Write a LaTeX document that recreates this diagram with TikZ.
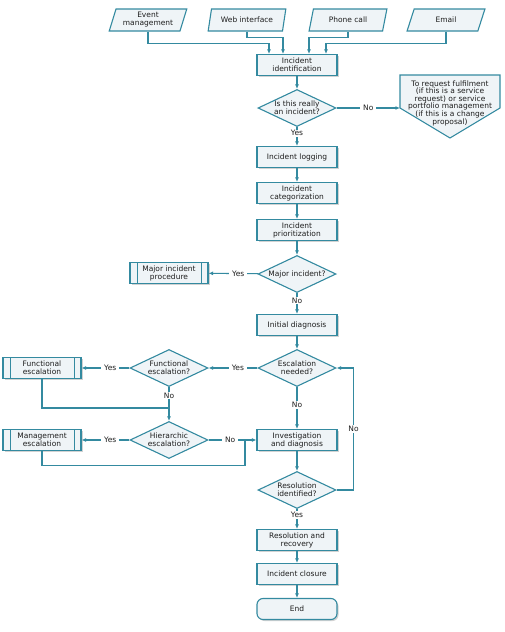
\documentclass[tikz,border=0pt]{standalone}
\usepackage{fontspec}
\setmainfont{DejaVu Sans}
\usetikzlibrary{arrows.meta,shapes.geometric,shadows}
\definecolor{itilline}{RGB}{52,138,160}
\definecolor{itilfill}{RGB}{239,244,247}
\definecolor{itiltext}{RGB}{30,30,30}
\tikzset{%
	base/.style     = {draw=itilline, line width=1.1pt, fill=itilfill, text=itiltext, align=center, font=\fontsize{7.5}{8}\selectfont},
	process/.style  = {base, rectangle, minimum width=80pt, minimum height=21pt, inner sep=2pt, drop shadow={shadow xshift=1.5pt, shadow yshift=-1.5pt, fill=black!35}},
	predef/.style   = {process, minimum width=78pt, path picture={\draw[itilline, line width=0.8pt] ([xshift=7pt]path picture bounding box.north west) -- ([xshift=7pt]path picture bounding box.south west) ([xshift=-7pt]path picture bounding box.north east) -- ([xshift=-7pt]path picture bounding box.south east);}},
	inout/.style    = {base, trapezium, trapezium left angle=72, trapezium right angle=108, trapezium stretches=true, minimum width=78pt, minimum height=22pt, inner sep=1pt},
	decision/.style = {base, diamond, aspect=2.1, minimum width=78pt, minimum height=37pt, inner sep=0pt},
	terminal/.style = {process, rounded corners=6pt},
	arrow/.style    = {draw=itilline, line width=1.1pt, -{Latex[length=4.5pt,width=4pt]}},
	link/.style     = {draw=itilline, line width=1.1pt},
	lbl/.style      = {fill=white, text=itiltext, inner xsep=3pt, inner ysep=1pt, font=\fontsize{7.5}{8}\selectfont},
}

\begin{document}
\begin{tikzpicture}[x=1pt,y=-1pt]
	\useasboundingbox (0,0) rectangle (504,632);
	% inputs
	\node[inout] (event) at (148,20) {Event\\management};
	\node[inout] (web)   at (247,20) {Web interface};
	\node[inout] (phone) at (348,20) {Phone call};
	\node[inout] (email) at (446,20) {Email};
	% main line
	\node[process]  (ident)  at (297,65)  {Incident\\identification};
	\node[decision] (real)   at (297,108) {Is this really\\an incident?};
	\node[process]  (log)    at (297,157) {Incident logging};
	\node[process]  (cat)    at (297,193) {Incident\\categorization};
	\node[process]  (prio)   at (297,230) {Incident\\prioritization};
	\node[decision] (major)  at (297,274) {Major incident?};
	\node[process]  (init)   at (297,325) {Initial diagnosis};
	\node[decision] (escal)  at (297,368) {Escalation\\needed?};
	\node[process]  (invest) at (297,440) {Investigation\\and diagnosis};
	\node[decision] (resol)  at (297,490) {Resolution\\identified?};
	\node[process]  (recov)  at (297,540) {Resolution and\\recovery};
	\node[process]  (close)  at (297,574) {Incident closure};
	\node[terminal] (end)    at (297,609) {End};
	% side branches
	\node[predef]   (majorproc) at (169,273) {Major incident\\procedure};
	\node[decision] (func)      at (169,368) {Functional\\escalation?};
	\node[predef]   (funcbox)   at (42,368)  {Functional\\escalation};
	\node[decision] (hier)      at (169,440) {Hierarchic\\escalation?};
	\node[predef]   (mgmt)      at (42,440)  {Management\\escalation};
	% off-page connector
	\draw[link, fill=itilfill] (400,75) -- (500,75) -- (500,108) -- (450,138) -- (400,108) -- cycle;
	\node[text=itiltext, align=center, font=\fontsize{7.5}{7.6}\selectfont] (request) at (450,103) {To request fulfilment\\(if this is a service\\request) or service\\portfolio management\\(if this is a change\\proposal)};
	\coordinate (reqin) at (400,108);
	\coordinate (fjoin) at (169,408);
	\coordinate (mjoin) at (245,440);

	\draw[arrow] (event.south) -- ++(0,12) -| ([xshift=-28pt]ident.north);
	\draw[arrow] (web.south) -- ++(0,6) -| ([xshift=-14pt]ident.north);
	\draw[arrow] (phone.south) -- ++(0,6) -| ([xshift=12pt]ident.north);
	\draw[arrow] (email.south) -- ++(0,12) -| ([xshift=29pt]ident.north);

	\draw[arrow] (ident) -- (real);
	\draw[arrow] (real) -- node[lbl] {No} (reqin);
	\draw[arrow] (real) -- node[lbl, pos=0.33] {Yes} (log);
	\draw[arrow] (log) -- (cat);
	\draw[arrow] (cat) -- (prio);
	\draw[arrow] (prio) -- (major);
	\draw[arrow] (major) -- node[lbl, pos=0.4] {Yes} (majorproc);
	\draw[arrow] (major) -- node[lbl, pos=0.35] {No} (init);
	\draw[arrow] (init) -- (escal);
	\draw[arrow] (escal) -- node[lbl, pos=0.4] {Yes} (func);
	\draw[arrow] (func) -- node[lbl, pos=0.4] {Yes} (funcbox);
	\draw[arrow] (func) -- node[lbl, pos=0.25] {No} (hier);
	\draw[link] (funcbox.south) |- (fjoin);
	\draw[arrow] (hier) -- node[lbl, pos=0.4] {Yes} (mgmt);
	\draw[arrow] (hier) -- node[lbl, pos=0.45] {No} (invest);
	\draw[link] (mgmt.south) -- ++(0,14) -| (mjoin);
	\draw[arrow] (escal) -- node[lbl, pos=0.43] {No} (invest);
	\draw[arrow] (invest) -- (resol);
	\draw[arrow] (resol.east) -- ++(17,0) |- node[lbl, pos=0.25] {No} (escal.east);
	\draw[arrow] (resol) -- node[lbl, pos=0.3] {Yes} (recov);
	\draw[arrow] (recov) -- (close);
	\draw[arrow] (close) -- (end);
\end{tikzpicture}
\end{document}
